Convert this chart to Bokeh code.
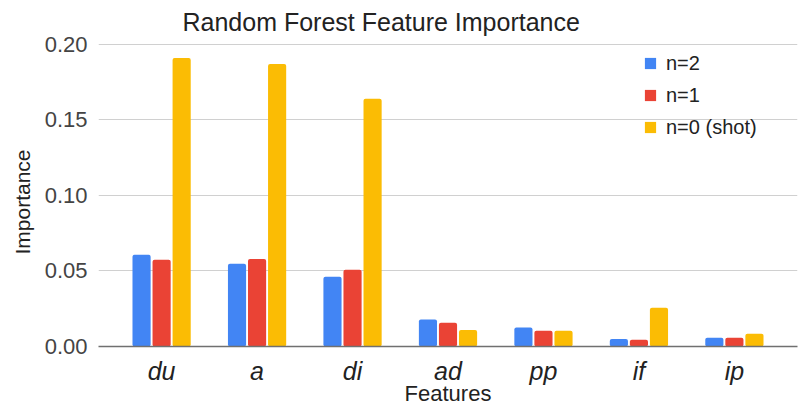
from bokeh.plotting import figure
from bokeh.models import ColumnDataSource, Range1d, FactorRange, Legend, LegendItem, Label, Title
from bokeh.transform import dodge
from bokeh.embed import file_html
from bokeh.resources import INLINE

features = ["du", "a", "di", "ad", "pp", "if", "ip"]
n2 = [0.0607, 0.0548, 0.0462, 0.0178, 0.0125, 0.0050, 0.0058]
n1 = [0.0574, 0.0580, 0.0508, 0.0158, 0.0105, 0.0045, 0.0058]
n0 = [0.1910, 0.1870, 0.1640, 0.0110, 0.0105, 0.0257, 0.0085]
series_labels = ["n=2", "n=1", "n=0 (shot)"]
yticks = [0.0, 0.05, 0.10, 0.15, 0.20]
title_text = "Random Forest Feature Importance"
x_title = "Features"
y_title = "Importance"

colors = ["#4285F4", "#EA4335", "#FBBC04"]
FONT = "Liberation Sans"

src = ColumnDataSource(dict(f=features, n2=n2, n1=n1, n0=n0))

# frame runs to the top of the canvas; 0.20 sits 44px below the top
y_top = 0.2 * 347 / 303

p = figure(width=800, height=408, output_backend="svg", toolbar_location=None,
           x_range=FactorRange(*features, range_padding=0.046, range_padding_units="percent"),
           y_range=Range1d(0, y_top), title=None)
p.min_border_left = 98
p.min_border_right = 3
p.min_border_top = 0
p.min_border_bottom = 61
p.outline_line_color = None

title = Label(x=2.80, y=0.2145, text=title_text, text_font=FONT, text_font_size="25px",
              text_color="#222222", text_align="center", text_baseline="alphabetic")
p.add_layout(title)

r2 = p.vbar(x=dodge("f", -0.21, range=p.x_range), top="n2", width=0.19, source=src,
            fill_color=colors[0], line_color=None, border_radius=2)
r1 = p.vbar(x=dodge("f", 0.0, range=p.x_range), top="n1", width=0.19, source=src,
            fill_color=colors[1], line_color=None, border_radius=2)
r0 = p.vbar(x=dodge("f", 0.21, range=p.x_range), top="n0", width=0.19, source=src,
            fill_color=colors[2], line_color=None, border_radius=2)

p.xgrid.grid_line_color = None
p.ygrid.grid_line_color = "#d0d0d0"
p.ygrid.grid_line_width = 1

p.yaxis.ticker = yticks
p.yaxis.bounds = (0, 0.2)
p.yaxis.major_label_overrides = {v: f"{v:.2f}" for v in yticks}
p.yaxis.axis_line_color = None
p.yaxis.major_tick_line_color = None
p.yaxis.minor_tick_line_color = None
p.yaxis.major_tick_out = 0
p.yaxis.major_tick_in = 0
p.yaxis.minor_tick_out = 0
p.yaxis.major_label_text_font = FONT
p.yaxis.major_label_text_font_size = "22px"
p.yaxis.major_label_text_color = "#444444"
p.yaxis.major_label_standoff = 11

ytitle = Title(text=y_title, align="left", offset=92, standoff=16,
               text_font=FONT, text_font_size="21px", text_font_style="normal",
               text_color="#222222")
p.add_layout(ytitle, "left")

p.xaxis.axis_line_color = "#707070"
p.xaxis.axis_line_width = 1.5
p.xaxis.major_tick_line_color = None
p.xaxis.minor_tick_line_color = None
p.xaxis.major_tick_out = 0
p.xaxis.major_tick_in = 0
p.xaxis.minor_tick_out = 0
p.xaxis.major_label_text_font = FONT
p.xaxis.major_label_text_font_size = "25px"
p.xaxis.major_label_text_font_style = "italic"
p.xaxis.major_label_text_color = "#222222"
p.xaxis.major_label_standoff = 10
p.xaxis.axis_label = x_title
p.xaxis.axis_label_text_font = FONT
p.xaxis.axis_label_text_font_size = "22px"
p.xaxis.axis_label_text_font_style = "normal"
p.xaxis.axis_label_text_color = "#222222"
p.xaxis.axis_label_standoff = -7

legend = Legend(items=[LegendItem(label=series_labels[0], renderers=[r2]),
                       LegendItem(label=series_labels[1], renderers=[r1]),
                       LegendItem(label=series_labels[2], renderers=[r0])],
                location=(545, 207), padding=0, margin=0, spacing=8,
                glyph_width=14, glyph_height=14, label_height=24, label_standoff=9,
                label_text_font=FONT, label_text_font_size="20px", label_text_color="#222222",
                border_line_alpha=0, background_fill_alpha=0)
p.add_layout(legend, "center")

open("out.html", "w").write(file_html(p, INLINE))
